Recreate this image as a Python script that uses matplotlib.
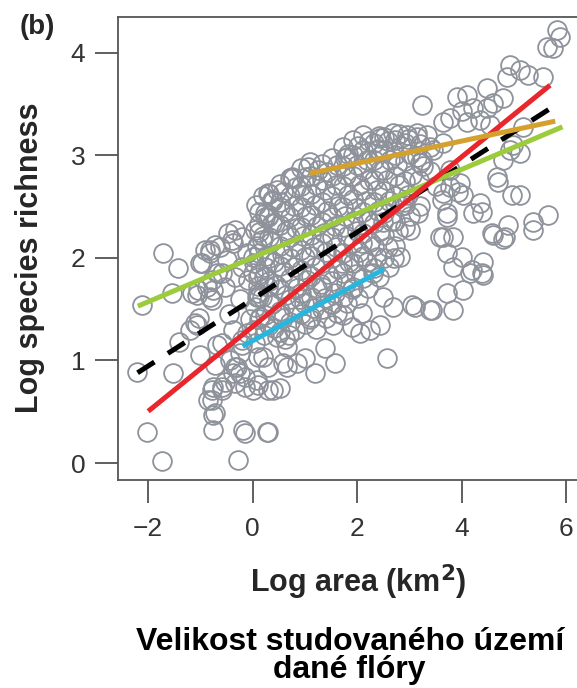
import matplotlib
matplotlib.use('Agg')
import numpy as np
import matplotlib.pyplot as plt

# scattered floras (log area km2, log species richness)
log_area = [
    -2.21, -2.11, -2.02, -1.73, -1.71, -1.43, -1.54, -1.52, -1.41, -1.06,
    -1.00, -1.10, -1.02, -1.00, -0.76, -0.87, -0.78, -0.76, -0.76, -0.76,
    -0.59, -0.37, -0.28, -0.18, 0.08, 0.01, 0.27, 0.39, -0.15, -0.30,
    -0.43, -0.24, -0.68, -0.20, -0.37, -0.11, -0.81, -0.68, -0.49, -0.81,
    -0.62, -0.37, -0.11, 0.00, 0.08, 0.14, 0.20, 0.58, 0.66, 0.47,
    -0.97, -0.81, -0.72, -0.47, -0.34, -0.20, -0.39, 0.05, 0.18, 0.29,
    0.37, 0.24, 0.37, -1.16, -1.04, -0.78, -0.59, -0.53, -0.34, -0.20,
    0.01, -0.09, 0.10, 0.24, 0.10, 0.29, -0.78, -0.91, -1.20, -1.06,
    -0.72, -0.59, -0.34, -0.24, -0.53, -0.78, -0.59, -0.85, -0.72, -0.15,
    0.29, -0.34, -0.15, 0.10, 0.29, -0.20, 0.05, 0.10, 0.29,
    # lower right edge of the cloud
    2.57, 1.58, 1.19, 1.00, 1.38, 0.52, 0.66, 0.85, 2.05, 1.90,
    2.24, 2.44, 1.54, 1.73, 2.09, 2.49, 2.68, 3.05, 3.39, 3.83,
    3.72, 4.02, 3.83, 4.00, 4.20, 4.41, 4.39, 3.72, 3.58, 3.83,
    4.60, 4.79, 5.36, 3.72, 3.64, 4.16, 4.41, 3.10, 3.43, 4.39,
    4.58, 4.83, 4.88, 5.36, 5.65, 4.96, 4.69, 3.93, 4.02, 3.64,
    3.16, 3.01, 3.62, 3.72, 4.22, 4.35,
    # upper right
    5.82, 5.88, 5.63, 5.74, 4.92, 5.11, 5.27, 4.86, 5.55, 3.24,
    3.91, 4.10, 4.48, 4.79, 3.77, 4.00, 4.21, 4.48, 4.60, 4.10,
    4.35, 4.54, 5.17, 4.92, 5.11, 4.79, 4.67, 3.14, 3.33, 3.39,
    3.64, 3.20, 3.77, 3.97, 3.77, 3.64, 4.98, 5.11, 3.14, 3.26,
    1.80, 1.06, 0.75, 1.10, 1.77, 0.77, 2.44, 2.68, 2.95, 3.14,
    2.38, 0.47, 0.52,
    # dense core
    0.02, 0.05, 0.10, 0.03, 0.08, 0.12, 0.06,
    0.21, 0.24, 0.18, 0.22, 0.26, 0.19, 0.23, 0.20,
    0.41, 0.38, 0.44, 0.40, 0.36, 0.43, 0.39,
    0.61, 0.58, 0.63, 0.60, 0.57, 0.64, 0.62, 0.59,
    0.81, 0.78, 0.84, 0.80, 0.77, 0.83, 0.79, 0.82,
    1.01, 0.98, 1.04, 1.00, 0.97, 1.03, 0.99, 1.02,
    1.21, 1.18, 1.24, 1.20, 1.17, 1.23, 1.19, 1.22, 1.25,
    1.41, 1.38, 1.44, 1.40, 1.37, 1.43, 1.39, 1.42,
    1.61, 1.58, 1.64, 1.60, 1.57, 1.63, 1.59, 1.62,
    1.81, 1.78, 1.84, 1.80, 1.77, 1.83, 1.79, 1.82,
    2.01, 1.98, 2.04, 2.00, 1.97, 2.03, 1.99, 2.02,
    2.21, 2.18, 2.24, 2.20, 2.17, 2.23, 2.19, 2.22,
    2.41, 2.38, 2.44, 2.40, 2.37, 2.43, 2.39, 2.42,
    2.61, 2.58, 2.64, 2.60, 2.57, 2.63, 2.59,
    2.81, 2.78, 2.84, 2.80, 2.77, 2.83, 2.79,
    3.01, 2.98, 3.04, 3.00, 2.97,
    3.21, 3.18, 3.24, 3.20,
    0.50, 0.90, 1.30, 1.70, 2.10, 2.50, 2.90, 0.70, 1.10, 1.50,
    1.90, 2.30, 2.70, 0.30, -0.05, -0.25, -0.45, 3.40, 3.50, 3.45,
]
log_richness = [
    0.89, 1.54, 0.30, 0.02, 2.05, 1.90, 1.66, 0.88, 1.18, 1.64,
    1.95, 1.37, 1.41, 1.05, 1.69, 1.72, 0.61, 0.74, 0.47, 0.32,
    0.71, 0.88, 0.03, 0.32, 0.81, 0.71, 0.30, 0.71, 0.84, 0.94,
    1.00, 1.07, 1.15, 1.15, 1.30, 1.27, 1.62, 1.85, 1.98, 2.08,
    2.11, 2.15, 2.05, 1.85, 1.62, 1.42, 1.03, 0.98, 1.13, 1.23,
    1.95, 2.05, 2.13, 2.24, 2.27, 2.20, 2.18, 2.27, 2.18, 2.63,
    2.57, 2.40, 2.34, 1.66, 1.69, 1.79, 1.85, 1.72, 1.81, 1.91,
    2.01, 1.79, 1.81, 1.91, 1.66, 1.72, 1.59, 2.08, 1.30, 1.35,
    0.96, 1.17, 0.94, 0.88, 0.79, 0.71, 0.74, 0.61, 0.49, 0.29,
    0.30, 0.78, 0.74, 0.76, 0.71, 1.20, 1.17, 1.03, 0.94,
    1.02, 0.98, 0.88, 1.02, 1.12, 0.73, 0.94, 0.98, 1.27, 1.33,
    1.30, 1.35, 1.35, 1.44, 1.46, 1.62, 1.52, 1.54, 1.49, 1.49,
    1.66, 1.69, 1.91, 2.01, 1.88, 1.96, 1.85, 2.05, 2.20, 2.20,
    2.22, 2.19, 2.27, 2.40, 2.20, 1.85, 1.83, 1.52, 1.49, 2.45,
    2.24, 2.20, 2.32, 2.35, 2.42, 2.61, 2.74, 2.64, 2.61, 2.63,
    2.44, 2.27, 2.57, 2.44, 2.44, 2.54,
    4.22, 4.16, 4.06, 4.05, 3.88, 3.83, 3.79, 3.77, 3.77, 3.49,
    3.57, 3.59, 3.66, 3.56, 3.37, 3.43, 3.46, 3.46, 3.51, 3.33,
    3.35, 3.30, 3.28, 3.05, 3.02, 2.96, 2.79, 3.22, 3.20, 3.08,
    3.12, 2.93, 2.86, 2.73, 2.69, 3.33, 3.10, 2.61, 2.99, 2.90,
    2.99, 2.89, 2.79, 2.94, 2.98, 2.78, 3.17, 3.22, 3.20, 3.18,
    3.05, 2.66, 2.50,
    1.30, 1.52, 1.73, 1.95, 2.12, 2.33, 2.52,
    1.25, 1.44, 1.62, 1.81, 2.02, 2.21, 2.44, 2.60,
    1.32, 1.55, 1.74, 1.96, 2.16, 2.34, 2.56,
    1.21, 1.41, 1.64, 1.86, 2.04, 2.26, 2.46, 2.64,
    1.30, 1.52, 1.71, 1.91, 2.11, 2.29, 2.51, 2.69,
    1.36, 1.56, 1.79, 2.01, 2.21, 2.41, 2.61, 2.79,
    1.31, 1.51, 1.71, 1.91, 2.11, 2.31, 2.52, 2.71, 2.86,
    1.41, 1.61, 1.84, 2.06, 2.24, 2.46, 2.66, 2.84,
    1.46, 1.66, 1.89, 2.11, 2.31, 2.51, 2.71, 2.91,
    1.56, 1.76, 1.96, 2.21, 2.41, 2.61, 2.81, 3.01,
    1.61, 1.84, 2.06, 2.26, 2.49, 2.71, 2.91, 3.09,
    1.71, 1.96, 2.16, 2.36, 2.56, 2.76, 2.96, 3.14,
    1.81, 2.01, 2.26, 2.46, 2.66, 2.86, 3.06, 3.19,
    1.91, 2.11, 2.36, 2.56, 2.76, 2.96, 3.14,
    2.01, 2.26, 2.51, 2.71, 2.91, 3.09, 3.21,
    2.41, 2.61, 2.81, 3.01, 3.16,
    2.51, 2.76, 2.96, 3.11,
    1.45, 1.60, 1.75, 1.95, 2.15, 2.35, 2.55, 1.25, 1.40, 1.55,
    1.70, 1.85, 2.00, 2.40, 1.40, 1.60, 1.45, 2.85, 2.70, 3.05,
]

# second, overlapping layer of the dense core
core_area = (
    [0.12] * 6 + [0.32] * 7 + [0.52] * 8 + [0.72] * 8 + [0.92] * 8
    + [1.12] * 8 + [1.32] * 8 + [1.52] * 8 + [1.72] * 8 + [1.92] * 8
    + [2.12] * 8 + [2.32] * 7 + [2.52] * 7 + [2.72] * 6 + [2.92] * 5
)
core_richness = [
    1.40, 1.62, 1.84, 2.05, 2.25, 2.45,
    1.35, 1.58, 1.78, 2.00, 2.20, 2.42, 2.62,
    1.28, 1.48, 1.70, 1.92, 2.12, 2.32, 2.55, 2.72,
    1.38, 1.60, 1.80, 2.00, 2.20, 2.40, 2.60, 2.78,
    1.45, 1.66, 1.88, 2.08, 2.30, 2.50, 2.70, 2.88,
    1.42, 1.62, 1.82, 2.02, 2.22, 2.42, 2.62, 2.80,
    1.50, 1.72, 1.95, 2.15, 2.35, 2.55, 2.76, 2.92,
    1.55, 1.78, 2.00, 2.20, 2.40, 2.60, 2.80, 2.98,
    1.62, 1.85, 2.05, 2.30, 2.50, 2.70, 2.90, 3.08,
    1.72, 1.95, 2.15, 2.36, 2.58, 2.80, 3.00, 3.15,
    1.80, 2.02, 2.24, 2.45, 2.66, 2.86, 3.05, 3.20,
    1.90, 2.12, 2.34, 2.55, 2.76, 2.96, 3.12,
    2.00, 2.22, 2.44, 2.65, 2.86, 3.05, 3.18,
    2.12, 2.36, 2.60, 2.80, 3.00, 3.15,
    2.30, 2.52, 2.75, 2.95, 3.12,
]

# regression lines: (x start, x end), (y start, y end)
overall_x, overall_y = [-2.20, 5.88], [0.88, 3.52]
red_x, red_y = [-1.96, 5.65], [0.52, 3.67]
green_x, green_y = [-2.15, 5.88], [1.54, 3.27]
orange_x, orange_y = [1.14, 5.74], [2.83, 3.33]
cyan_x, cyan_y = [-0.15, 2.47], [1.15, 1.88]

xticks = [-2, 0, 2, 4, 6]
yticks = [0, 1, 2, 3, 4]

plt.rcParams['font.family'] = ['Liberation Sans', 'DejaVu Sans']

fig = plt.figure(figsize=(5.77, 6.88), dpi=100)
ax = fig.add_axes([0.2045, 0.3023, 0.80, 0.673])

circ = dict(ms=13.5, mfc='none', mec='#8e929b', mew=1.3, zorder=1)
ax.plot(log_area, log_richness, 'o', **circ)
ax.plot(core_area, core_richness, 'o', **circ)

ax.plot(overall_x, overall_y, color='black', lw=3.6, dashes=(4, 3.2), solid_capstyle='butt', zorder=3)
ax.plot(green_x, green_y, color='#9ccb3b', lw=3.6, zorder=3)
ax.plot(red_x, red_y, color='#e8262b', lw=3.6, zorder=4)
ax.plot(orange_x, orange_y, color='#d5a12e', lw=3.6, zorder=4)
ax.plot(cyan_x, cyan_y, color='#27b6de', lw=3.6, zorder=4)

ax.set_xlim(-2.574, 6.252)
ax.set_ylim(-0.166, 4.351)
ax.set_xticks(xticks)
ax.set_yticks(yticks)
ax.set_xticklabels(['\u22122', '0', '2', '4', '6'])
ax.tick_params(length=16.5, width=1.2, color='#444444', labelsize=19, labelcolor='#333333')
ax.tick_params(axis='x', pad=10)
ax.tick_params(axis='y', pad=7)
for s in ax.spines.values():
    s.set_color('#555555')
    s.set_linewidth(1.3)
ax.spines['right'].set_visible(False)

ax.set_xlabel('Log area (km$^\\mathbf{2}$)', fontsize=22, fontweight='bold', color='#262626', va='baseline')
ax.xaxis.set_label_coords(0.52, -0.242)
ax.set_ylabel('Log species richness', fontsize=22, fontweight='bold', color='#262626', va='center')
ax.yaxis.set_label_coords(-0.19, 0.479)

fig.text(0.064, 0.961, '(b)', fontsize=20, fontweight='bold', color='#262626', ha='center', va='center')
fig.text(0.606, 0.0552, 'Velikost studovaného území', fontsize=23, fontweight='bold',
         color='black', ha='center', va='baseline')
fig.text(0.606, 0.0145, 'dané flóry', fontsize=23, fontweight='bold',
         color='black', ha='center', va='baseline')

plt.savefig('out.png', dpi=100)
plt.close()
